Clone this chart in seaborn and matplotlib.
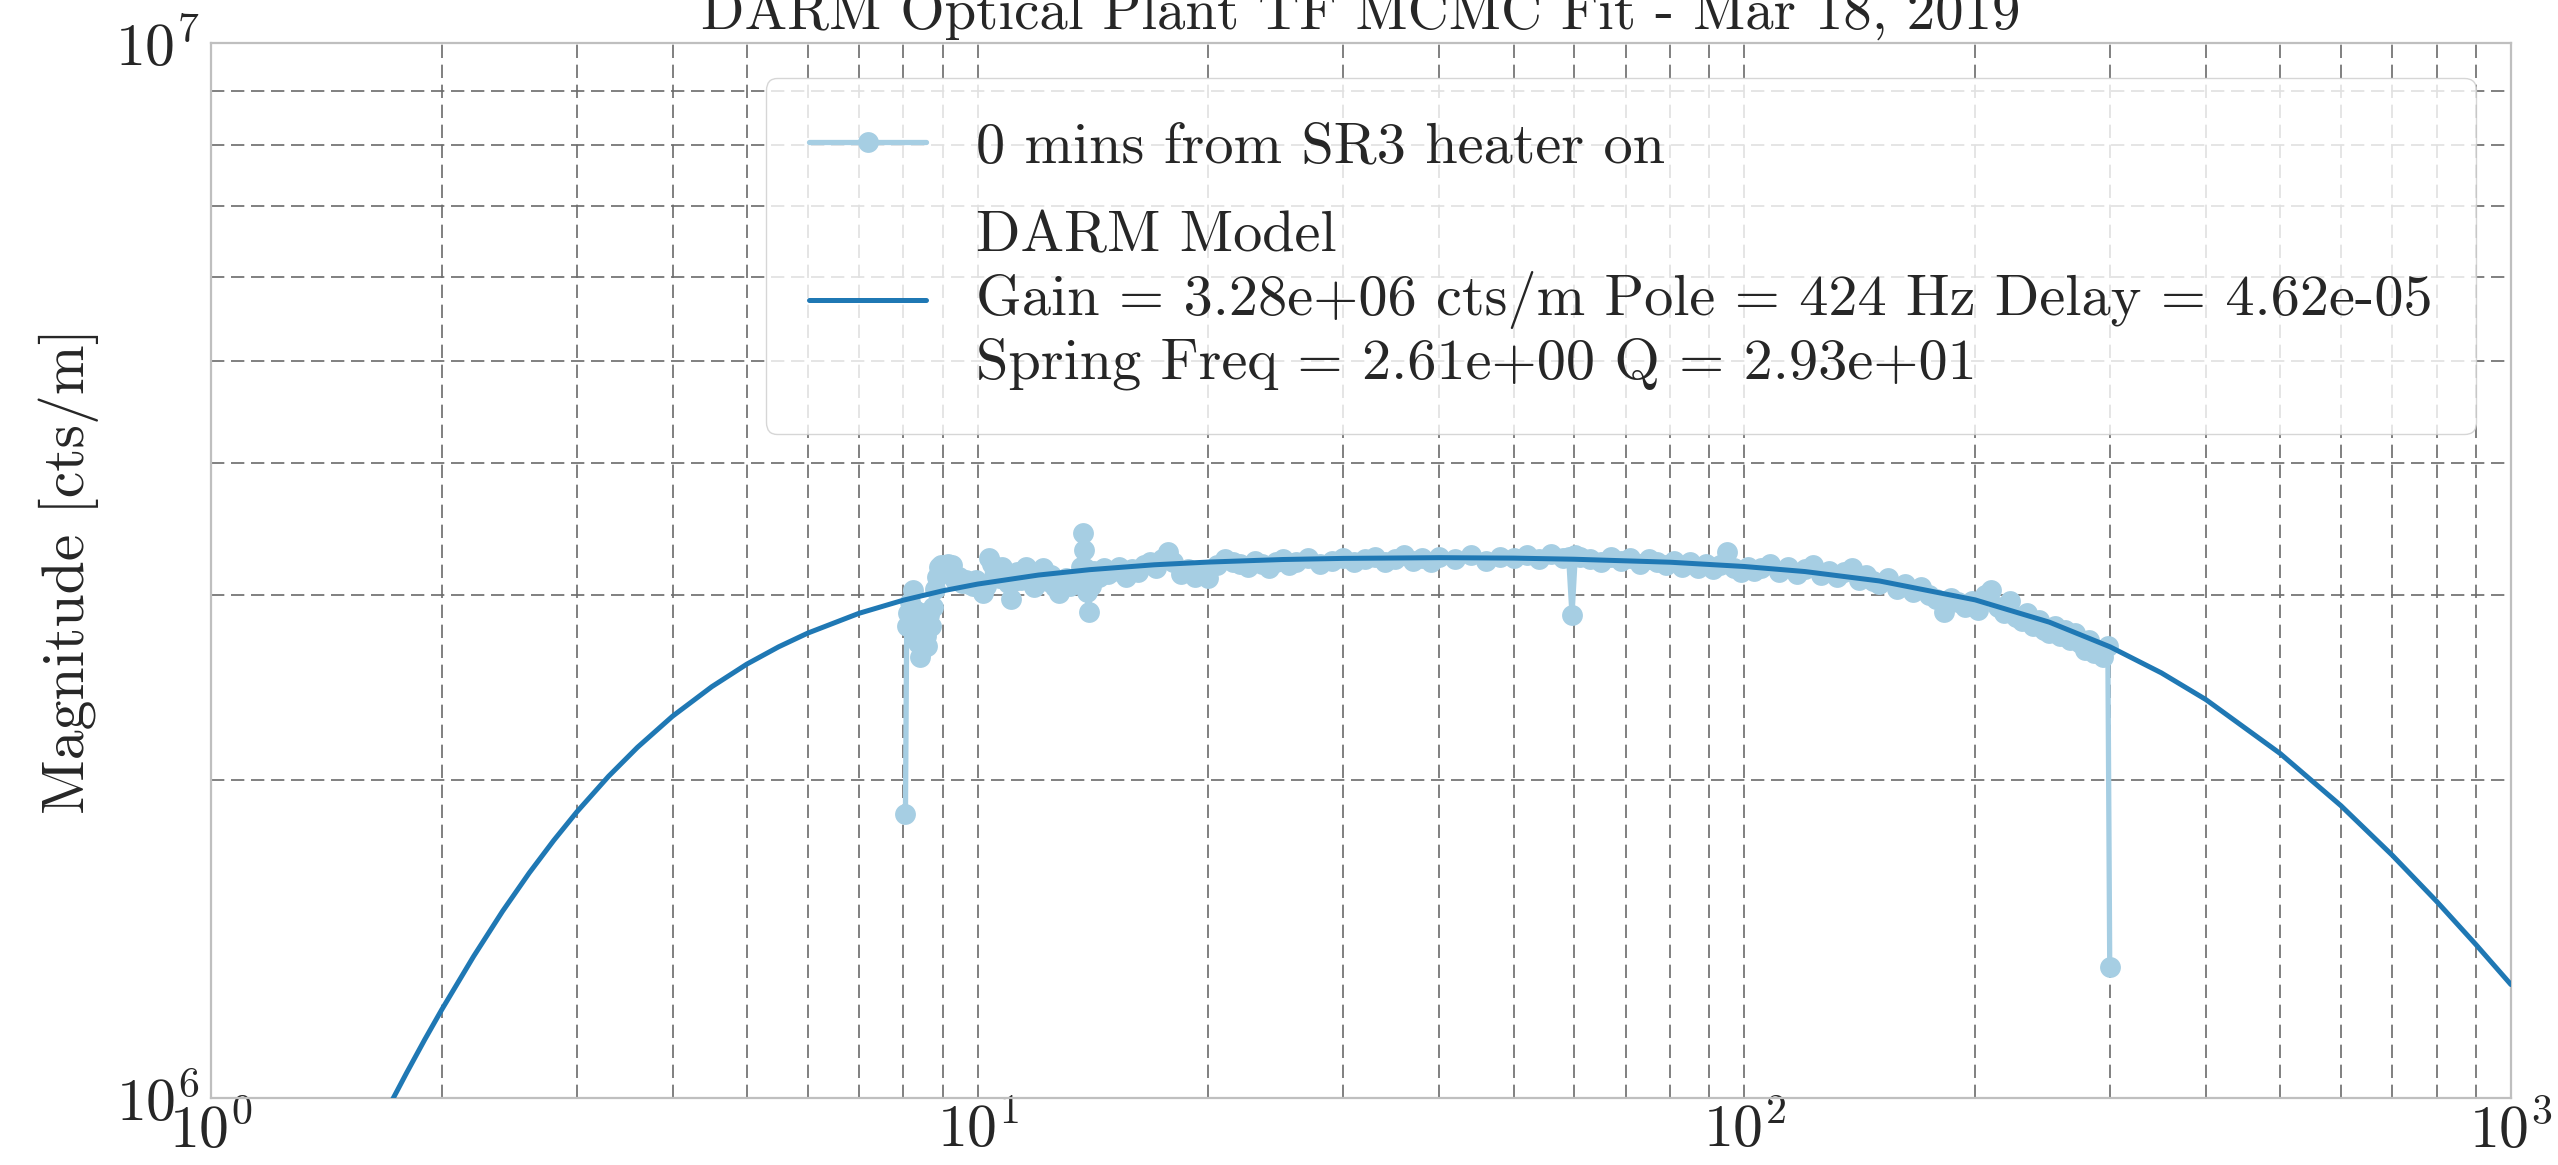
import numpy as np
import pandas as pd
import matplotlib
matplotlib.use("Agg")
import matplotlib.pyplot as plt
import matplotlib.ticker as mticker
import seaborn as sns


# measured transfer function magnitude (cts/m, in units of 1e6)
data_freq = [8.05, 8.08, 8.12, 8.16, 8.20, 8.24, 8.28, 8.32, 8.36, 8.40,
             8.45, 8.50, 8.55, 8.60, 8.65, 8.70, 8.75, 8.80, 8.85, 8.90,
             8.95, 9.05, 9.15, 9.25, 9.35, 9.45, 9.55, 9.65, 9.75, 9.85,
             9.95, 10.05, 10.15, 10.25, 10.35, 10.45, 10.55, 10.65, 10.75, 10.85,
             10.95, 11.05, 11.15, 11.25, 11.4, 11.55, 11.7, 11.85, 12.0, 12.15,
             12.3, 12.45, 12.6, 12.75, 12.9, 13.05, 13.2, 13.35, 13.5, 13.62,
             13.72, 13.75, 13.8, 13.88, 13.95, 14.05, 14.2, 14.4, 14.6, 14.8,
             15.0, 15.3, 15.6, 15.9, 16.2, 16.5, 16.8, 17.1, 17.4, 17.7,
             18.0, 18.4, 18.8, 19.2, 19.6, 20.0, 20.5, 21, 21.5, 22,
             22.5, 23, 23.5, 24, 24.5, 25, 25.5, 26, 27, 28,
             29, 30, 31, 32, 33, 34, 35, 36, 37, 38,
             39, 40, 42, 44, 46, 48, 50, 52, 54, 56,
             58, 59.0, 59.6, 60.2, 61, 63, 65, 67, 69, 71,
             73, 75, 77, 79, 81, 83, 85, 87, 89, 91,
             93, 95, 97, 99, 101, 103, 105, 108, 111, 114,
             117, 120, 123, 126, 129, 132, 135, 138, 141, 144,
             147, 150, 154, 158, 162, 166, 170, 174, 178, 182,
             186, 190, 194, 198, 202, 206, 210, 214, 218, 222,
             226, 230, 234, 238, 242, 246, 250, 254, 258, 262,
             266, 270, 274, 278, 282, 286, 290, 294, 298, 299.7]
data_mag = [1.86, 2.80, 2.88, 2.95, 2.81, 3.03, 2.90, 2.77, 2.70, 2.62,
            2.66, 2.88, 2.74, 2.68, 2.87, 2.80, 2.92, 3.04, 3.12, 3.19,
            3.20, 3.20, 3.21, 3.20, 3.10, 3.12, 3.08, 3.10, 3.07, 3.06,
            3.10, 3.05, 3.01, 3.06, 3.25, 3.21, 3.17, 3.11, 3.19, 3.14,
            3.08, 2.97, 3.09, 3.15, 3.10, 3.19, 3.16, 3.05, 3.10, 3.18,
            3.09, 3.13, 3.05, 3.01, 3.10, 3.11, 3.06, 3.07, 3.12, 3.19,
            3.43, 3.31, 3.18, 3.02, 2.89, 3.06, 3.16, 3.12, 3.18, 3.14,
            3.16, 3.19, 3.12, 3.17, 3.15, 3.20, 3.22, 3.18, 3.24, 3.29,
            3.22, 3.14, 3.17, 3.12, 3.16, 3.11, 3.20, 3.24, 3.22, 3.21,
            3.19, 3.23, 3.21, 3.18, 3.22, 3.24, 3.20, 3.22, 3.25, 3.21,
            3.23, 3.25, 3.22, 3.24, 3.26, 3.22, 3.24, 3.27, 3.23, 3.25,
            3.22, 3.26, 3.24, 3.27, 3.23, 3.26, 3.25, 3.27, 3.24, 3.28,
            3.25, 3.26, 2.87, 3.27, 3.26, 3.24, 3.22, 3.26, 3.23, 3.25,
            3.21, 3.24, 3.22, 3.20, 3.23, 3.19, 3.22, 3.18, 3.21, 3.17,
            3.20, 3.29, 3.18, 3.15, 3.19, 3.16, 3.18, 3.21, 3.15, 3.19,
            3.14, 3.17, 3.20, 3.13, 3.16, 3.12, 3.15, 3.18, 3.10, 3.13,
            3.09, 3.07, 3.11, 3.04, 3.07, 3.02, 3.05, 3.00, 2.97, 2.89,
            2.98, 2.95, 2.92, 2.96, 2.90, 3.00, 3.03, 2.92, 2.88, 2.96,
            2.86, 2.83, 2.88, 2.80, 2.84, 2.78, 2.76, 2.80, 2.74, 2.78,
            2.72, 2.76, 2.70, 2.66, 2.72, 2.64, 2.66, 2.62, 2.68, 1.33]

# fitted DARM model magnitude (cts/m, in units of 1e6)
model_freq = [1.5, 1.6, 1.7, 1.8, 1.9, 2.0, 2.2, 2.4, 2.6, 2.8,
              3.0, 3.3, 3.6, 4.0, 4.5, 5.0, 5.5, 6.0, 7.0, 8.0,
              9.0, 10, 12, 14, 17, 20, 25, 30, 40, 50,
              60, 80, 100, 120, 150, 200, 250, 300, 350, 400,
              500, 600, 700, 800, 900, 1000]
model_mag = [0.814, 0.896, 0.977, 1.057, 1.136, 1.213, 1.362, 1.503, 1.634, 1.755,
             1.867, 2.018, 2.150, 2.301, 2.454, 2.578, 2.677, 2.758, 2.880, 2.964,
             3.025, 3.070, 3.131, 3.168, 3.202, 3.221, 3.239, 3.247, 3.252, 3.249,
             3.241, 3.220, 3.190, 3.155, 3.091, 2.966, 2.825, 2.677, 2.529, 2.386,
             2.121, 1.893, 1.699, 1.536, 1.398, 1.281]

data_label = "0 mins from SR3 heater on"
model_label = ("DARM Model\n"
               "Gain = 3.28e+06 cts/m Pole = 424 Hz Delay = 4.62e-05\n"
               "Spring Freq = 2.61e+00 Q = 2.93e+01")
title = "DARM Optical Plant TF MCMC Fit - Mar 18, 2019"

sns.set_theme(style="whitegrid")
plt.rcParams["font.family"] = ["cmr10", "DejaVu Serif"]
plt.rcParams["mathtext.fontset"] = "cm"
plt.rcParams["mathtext.default"] = "regular"
plt.rcParams["axes.formatter.use_mathtext"] = True
plt.rcParams["axes.unicode_minus"] = False

fs = 43

df = pd.DataFrame({"freq": data_freq, "mag": np.array(data_mag) * 1e6})
dm = pd.DataFrame({"freq": model_freq, "mag": np.array(model_mag) * 1e6})

fig, ax = plt.subplots(figsize=(25.58, 11.65), dpi=100)
fig.subplots_adjust(left=0.0825, right=0.9816, top=0.9631, bottom=0.0575)

sns.lineplot(data=df, x="freq", y="mag", ax=ax, color="#a6cee3", lw=3.8,
             marker="o", markersize=15, markeredgewidth=0, estimator=None,
             sort=False, label=data_label, zorder=2)
sns.lineplot(data=dm, x="freq", y="mag", ax=ax, color="#1f78b4", lw=3.6,
             estimator=None, sort=False, label=model_label, zorder=3)

ax.set_xscale("log")
ax.set_yscale("log")
ax.set_xlim(1, 1000)
ax.set_ylim(1e6, 1e7)
ax.xaxis.set_minor_formatter(mticker.NullFormatter())
ax.yaxis.set_minor_formatter(mticker.NullFormatter())

ax.grid(which="both", color="#6b6b6b", linestyle=(0, (8, 4)), linewidth=1.2)
for s in ax.spines.values():
    s.set_color("#bfbfbf")
    s.set_linewidth(1.6)

ax.tick_params(axis="both", which="both", labelsize=fs, length=0)
ax.tick_params(axis="x", pad=3)
ax.tick_params(axis="y", pad=8)

ax.set_xlabel("")
ax.set_ylabel("Magnitude [cts/m]", fontsize=fs, labelpad=12)
ax.set_title(title, fontsize=41, pad=10)

ax.legend(loc="upper right", fontsize=42, frameon=True, framealpha=0.8,
          edgecolor="#cccccc", fancybox=True, borderaxespad=0.6,
          labelspacing=0.65, borderpad=0.75, handletextpad=0.85)

fig.savefig("out.png", dpi=100)
